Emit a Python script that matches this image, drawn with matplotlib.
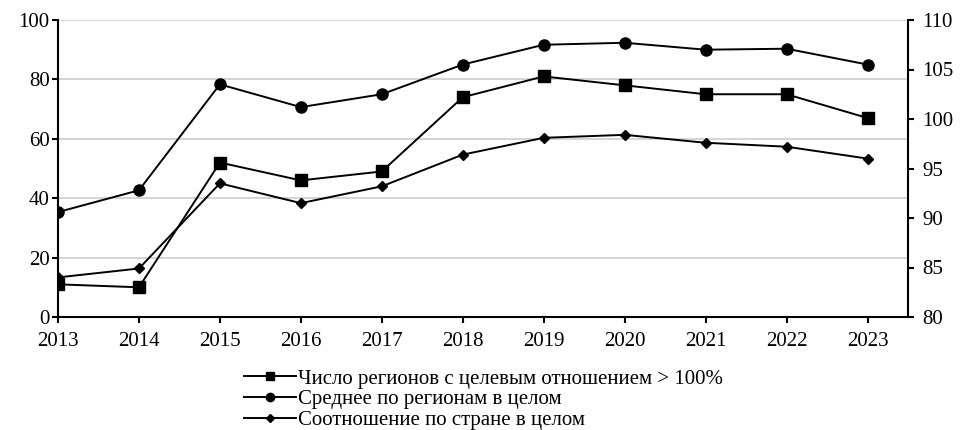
import matplotlib
matplotlib.use("Agg")
import matplotlib.pyplot as plt

years = [2013, 2014, 2015, 2016, 2017, 2018, 2019, 2020, 2021, 2022, 2023]
# left axis: number of regions
regions_over_100 = [11, 10, 52, 46, 49, 74, 81, 78, 75, 75, 67]
# right axis: ratios, %
avg_by_regions = [90.6, 92.8, 103.5, 101.2, 102.5, 105.5, 107.5, 107.7, 107.0, 107.1, 105.5]
country_ratio = [84.0, 84.9, 93.5, 91.5, 93.2, 96.4, 98.1, 98.4, 97.6, 97.2, 96.0]

labels = ["Число регионов с целевым отношением > 100%",
          "Среднее по регионам в целом",
          "Соотношение по стране в целом"]
left_ticks = [0, 20, 40, 60, 80, 100]
right_ticks = [80, 85, 90, 95, 100, 105, 110]

plt.rcParams['font.family'] = ['Liberation Serif', 'DejaVu Serif']
plt.rcParams['font.size'] = 15

fig = plt.figure(figsize=(9.6, 4.3), dpi=100)
ax = fig.add_axes([58 / 960, 1 - 317 / 430, (908 - 58) / 960, (317 - 20) / 430])
ax2 = ax.twinx()

ax.set_xlim(2013, 2023.5)
ax.set_ylim(0, 100)
ax2.set_ylim(80, 110)
ax.set_yticks(left_ticks)
ax2.set_yticks(right_ticks)
ax.set_xticks(years)

ax.grid(axis='y', color='#d4d4d4', linewidth=1.4)
ax.set_axisbelow(True)

lw = 1.4
l1, = ax.plot(years, regions_over_100, color='black', lw=lw, marker='s', markersize=8, label=labels[0])
l2, = ax2.plot(years, avg_by_regions, color='black', lw=lw, marker='o', markersize=8, label=labels[1])
l3, = ax2.plot(years, country_ratio, color='black', lw=lw, marker='D', markersize=5.5, label=labels[2])

for a in (ax, ax2):
    a.spines['top'].set_visible(False)
    for s in a.spines.values():
        s.set_linewidth(1.5)
    a.tick_params(length=4.5, width=1.5, colors='black')
ax.spines['right'].set_visible(False)
ax2.spines['left'].set_visible(False)
ax2.spines['bottom'].set_visible(False)
ax.tick_params(axis='y', pad=1.5)
ax.tick_params(axis='x', pad=6)
ax2.tick_params(axis='y', pad=6)

fig.legend([l1, l2, l3], labels, loc='upper left', bbox_to_anchor=(244 / 960, 1 - 369 / 430),
           frameon=False, handlelength=2.5, handletextpad=0.1, labelspacing=0.05,
           borderaxespad=0, borderpad=0, markerscale=0.75)

fig.savefig("out.png", dpi=100)
